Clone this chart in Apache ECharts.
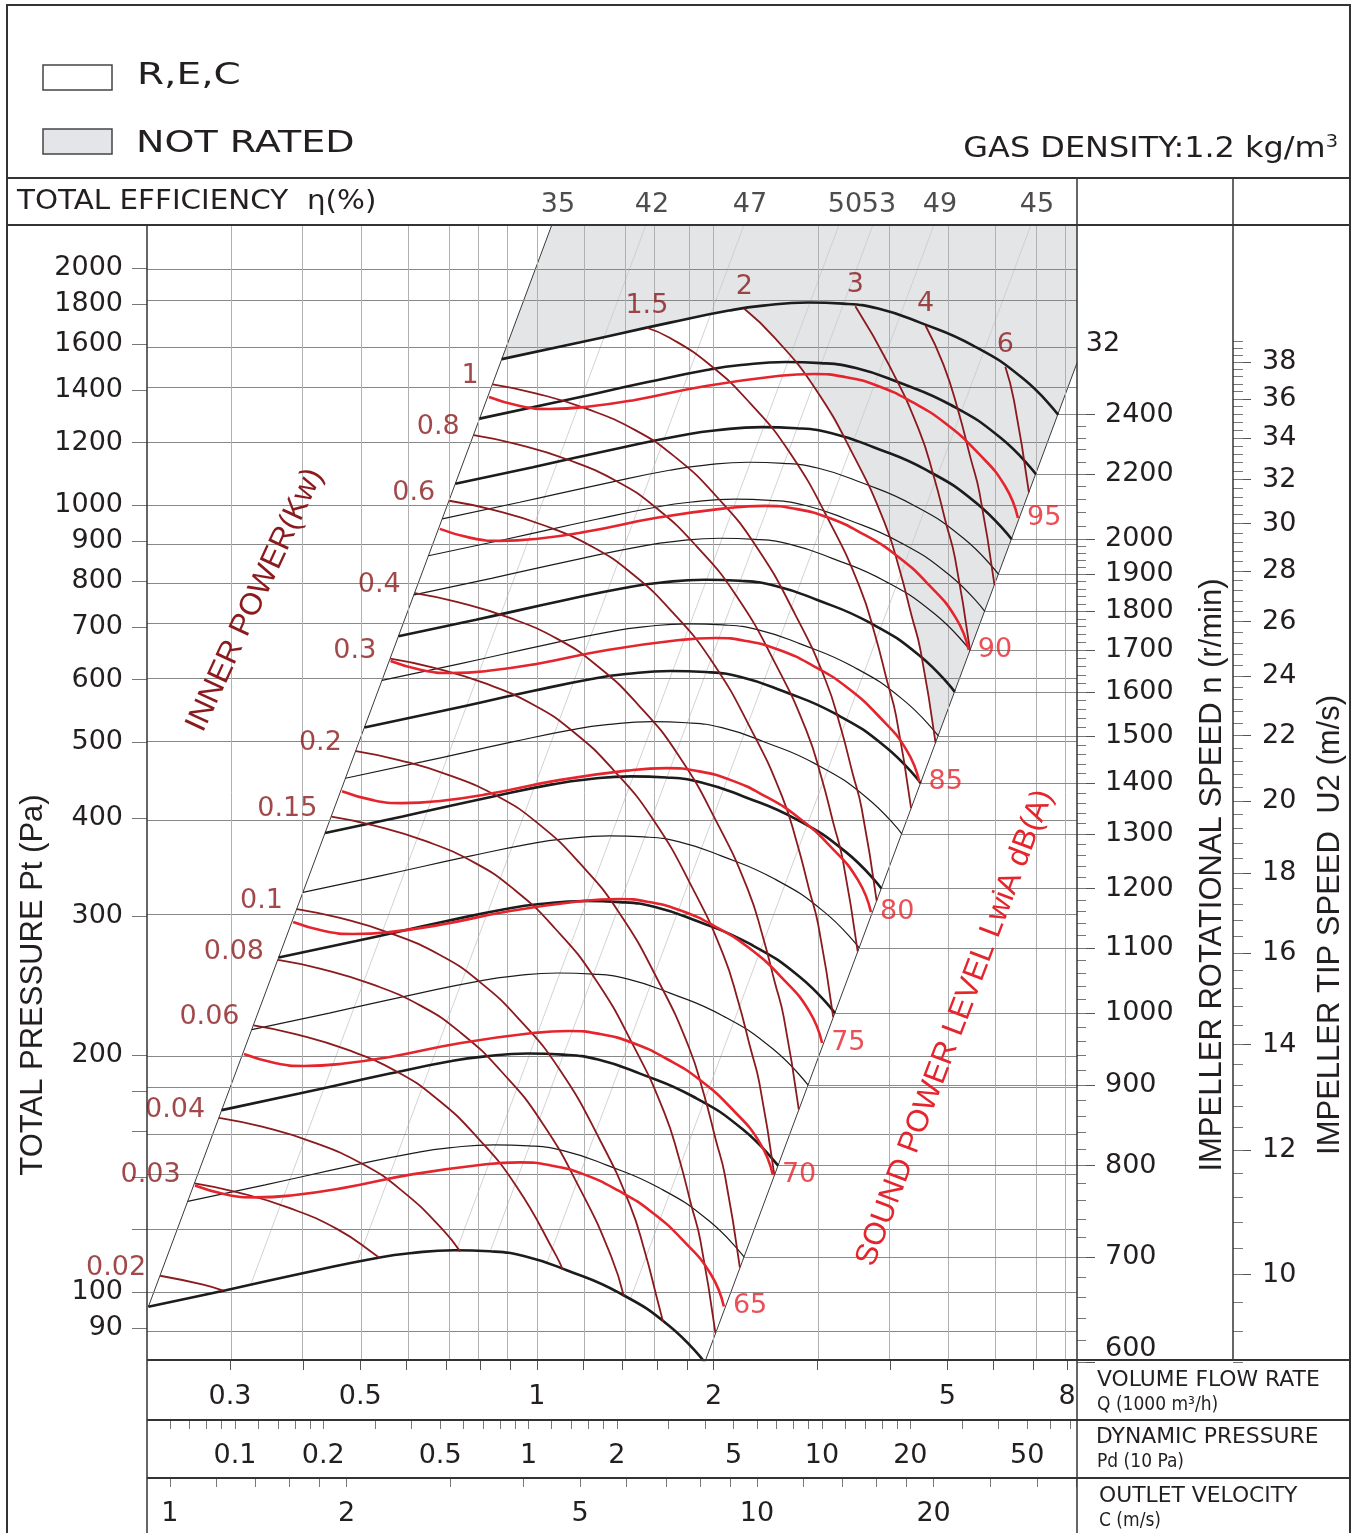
<!DOCTYPE html>
<html>
<head>
<meta charset="utf-8">
<title>Fan performance chart</title>
<script src="https://cdn.jsdelivr.net/npm/echarts@6.0.0/dist/echarts.min.js"></script>
<style>
html,body{margin:0;padding:0;background:#ffffff;}
#chart{width:1355px;height:1533px;}
</style>
</head>
<body>
<div id="chart"></div>
<script>
// ===================== DATA =====================
// axis extents (flow Q in 1000 m3/h, total pressure Pt in Pa)
const Q_RANGE = [0.21664, 8.318];
const P_RANGE = [81.95, 2268.5];

// tick lists
const flowTicks = [0.3,0.4,0.5,0.6,0.7,0.8,0.9,1,1.2,1.4,1.6,1.8,2,3,4,5,6,7,8];
const flowLabels = [0.3,0.5,1,2,5,8];
const pressureTicks = [90,100,120,140,160,180,200,300,400,500,600,700,800,900,1000,1200,1400,1600,1800,2000];
const pressureLabels = [90,100,200,300,400,500,600,700,800,900,1000,1200,1400,1600,1800,2000];
const speedLabels = [600,700,800,900,1000,1100,1200,1300,1400,1500,1600,1700,1800,1900,2000,2200,2400];
const tipSpeedLabels = [10,12,14,16,18,20,22,24,26,28,30,32,34,36,38];
const dynPressureTicks = [0.06,0.07,0.08,0.09,0.1,0.12,0.14,0.16,0.18,0.2,0.3,0.4,0.5,0.6,0.7,0.8,0.9,1,1.2,1.4,1.6,1.8,2,3,4,5,6,7,8,9,10,12,14,16,18,20,30,40,50,60,70];
const dynPressureLabels = [0.1,0.2,0.5,1,2,5,10,20,50];
const velocityTicks = [1,1.2,1.4,1.6,1.8,2,3,4,5,6,7,8,9,10,12,14,16,18,20,25,30,35];
const velocityLabels = [1,2,5,10,20];

// fan constants
const airDensity = 1.2;            // kg/m3
const outletVelocityPerFlow = 4.22; // C (m/s) per 1000 m3/h
const impellerDiameter = 0.28;     // m
const lowestSpeed = 600;

// fan curve (total pressure vs flow) at the reference speed
const fanBaseRpm = 1000;
const fanBaseQ = [0.363,0.492,0.702,0.885,1.012,1.207,1.385,1.589,1.873,2.306,2.805,3.219];
const fanBaseP = [266,279.2,296.0,306.6,311.1,313.9,312.9,308.4,296.0,276.8,251.3,226.1];
const fanSpeeds = [600,700,800,900,1000,1100,1200,1300,1400,1500,1600,1700,1800,1900,2000,2200,2400];
const fanSpeedsBold = [600,800,1000,1200,1400,1600,2000,2200,2400];

// sound power level curves (dB(A)) : shape at the 70 dB curve, speed at which each curve ends
const soundLevels = [65,70,75,80,85,90,95];
const soundSpeeds = [651,789,957,1159,1402,1701,2063];
const soundBaseSpeed = 789;
const soundBaseQ = [0.3169,0.3578,0.4010,0.4618,0.5618,0.7422,0.9844,1.1337,1.2805,1.4572,1.6654,1.8956,2.1578,2.3988,2.5235];
const soundBaseP = [200.6,195.4,193.7,194.8,198.9,207.2,213.3,214.6,212.7,207.2,197.7,185.9,170.3,154.6,140.8];

// inner power curves (kW) : shape of the 0.1 kW curve
const powerValues = [0.02,0.03,0.04,0.06,0.08,0.1,0.15,0.2,0.3,0.4,0.6,0.8,1,1.5,2,3,4,6];
const powerBaseKw = 0.1;
const powerBaseQ = [0.3901,0.4618,0.5618,0.6837,0.7997,0.9355,1.0944,1.2805,1.4400,1.5275,1.6014,1.6588,1.7593];
const powerBaseP = [306.6,298.7,285.8,268.0,247.6,221.5,191.4,156.0,129.0,112.4,98.2,88.7,67.7];
const notRatedPower = 2;

// total efficiency (%) lines: system coefficient k = Pt / Q^2
const effValues = [35,42,47,50,53,49,45];
const effK = [2017,964.6,447.0,212.2,162.5,100.7,47.06];
const rightBoundaryK = 21.9;

// ===================== helpers =====================
const L = Math.log10;
const pw = v => Math.pow(10, v);
const fmt = v => String(+v.toPrecision(4));
const toXY = p => [L(p[0]), L(p[1])];
const lerpLog = (a, b, t) => pw(L(a) + t * (L(b) - L(a)));
const scaled = (Qs, Ps, r) => Qs.map((q, i) => [q * r, Ps[i] * r * r]);

const X0 = L(Q_RANGE[0]), X1 = L(Q_RANGE[1]), Y0 = L(P_RANGE[0]), Y1 = L(P_RANGE[1]);
const baseLK = fanBaseQ.map((q, i) => L(fanBaseP[i] / (q * q)));
function baseQatK(k) {
  const lk = L(k);
  if (lk >= baseLK[0]) return fanBaseQ[0];
  const n = baseLK.length;
  if (lk <= baseLK[n - 1]) return fanBaseQ[n - 1];
  for (let i = 0; i < n - 1; i++) {
    if (lk <= baseLK[i] && lk >= baseLK[i + 1]) {
      const t = (lk - baseLK[i]) / (baseLK[i + 1] - baseLK[i]);
      return lerpLog(fanBaseQ[i], fanBaseQ[i + 1], t);
    }
  }
  return fanBaseQ[n - 1];
}
const speedAt = (q, p) => fanBaseRpm * q / baseQatK(p / (q * q));
function clipSpeed(pts, nMin, nMax) {
  const ns = pts.map(p => speedAt(p[0], p[1]));
  const out = []; let startClipped = false;
  for (let i = 0; i < pts.length; i++) {
    if (i > 0) {
      const n0 = ns[i - 1], n1 = ns[i], cr = [];
      [nMin, nMax].forEach(b => {
        if ((n0 - b) * (n1 - b) < 0) {
          const t = (L(b) - L(n0)) / (L(n1) - L(n0));
          cr.push([t, [lerpLog(pts[i - 1][0], pts[i][0], t), lerpLog(pts[i - 1][1], pts[i][1], t)]]);
        }
      });
      cr.sort((a, b) => a[0] - b[0]).forEach(c => { if (out.length === 0) startClipped = true; out.push(c[1]); });
    }
    if (ns[i] >= nMin - 1e-6 && ns[i] <= nMax + 1e-6) out.push(pts[i]);
  }
  return { pts: out, startClipped };
}

// derived curves
const nMinCurve = fanSpeeds[0], nMaxCurve = fanSpeeds[fanSpeeds.length - 1];
const fanCurves = fanSpeeds.map(n => ({ n, pts: scaled(fanBaseQ, fanBaseP, n / fanBaseRpm) }));
const soundCurves = soundLevels.map((lv, i) => ({ lv, pts: scaled(soundBaseQ, soundBaseP, soundSpeeds[i] / soundBaseSpeed) }));
const powerCurves = powerValues.map(w => {
  const r = Math.cbrt(w / powerBaseKw);
  return Object.assign({ w }, clipSpeed(scaled(powerBaseQ, powerBaseP, r), nMinCurve, nMaxCurve));
});

// speed axis extents: right end of curve n sits at pressure Pend*(n/1000)^2
const endP = fanBaseP[fanBaseP.length - 1];
const nTop = fanBaseRpm * Math.sqrt(P_RANGE[1] / endP);
const plotH = 1135;
const rightGridH = plotH * 2 * (L(nTop) - L(lowestSpeed)) / (Y1 - Y0);
const tipPerRpm = Math.PI * impellerDiameter / 60;

// not-rated region polygon
const topCurve = fanCurves[fanCurves.length - 1].pts;
const nrCurve = powerCurves.find(c => c.w === notRatedPower).pts;
const kc = nrCurve[0][1] / (nrCurve[0][0] * nrCurve[0][0]);
const grayPoly = [];
grayPoly.push([Math.sqrt(P_RANGE[1] / effK[0]), P_RANGE[1]]);
topCurve.filter(p => p[1] / (p[0] * p[0]) > kc).forEach(p => grayPoly.push(p));
nrCurve.forEach(p => grayPoly.push(p));
grayPoly.push([Q_RANGE[1], rightBoundaryK * Q_RANGE[1] * Q_RANGE[1]]);
grayPoly.push([Q_RANGE[1], P_RANGE[1]]);
const grayXY = grayPoly.map(toXY);

// ===================== styles =====================
const INK = '#231f20', DARKRED = '#8a1a1d', RED = '#e5252d';
const axisFont = { fontFamily: 'DejaVu Sans', fontSize: 27, color: INK };
const SMOOTH = 0.5;

// ===================== series =====================
const series = [];
series.push({
  type: 'custom', xAxisIndex: 0, yAxisIndex: 0, z: 1, silent: true, clip: true,
  data: [grayXY[0]],
  renderItem: (params, api) => ({
    type: 'polygon',
    shape: { points: grayXY.map(p => api.coord(p)), smooth: 0 },
    style: { fill: '#e4e5e7', stroke: null }
  })
});

// grid lines
const c600 = fanCurves[0].pts;
const rpmLines = fanCurves.filter(c => c.pts[c.pts.length - 1][1] > P_RANGE[0]).map(c => {
  const e = c.pts[c.pts.length - 1];
  return [{ coord: [L(e[0]), L(e[1])] }, { coord: [X1, L(e[1])] }];
});
series.push({
  type: 'line', xAxisIndex: 0, yAxisIndex: 0, z: 2, silent: true, data: [], symbol: 'none',
  markLine: {
    silent: true, symbol: ['none', 'none'], label: { show: false }, animation: false,
    lineStyle: { type: 'solid', color: '#8a8a8a', width: 1 },
    emphasis: { disabled: true },
    data: [
      ...pressureTicks.map(p => ({ yAxis: L(p), lineStyle: { type: 'solid', color: '#888888', width: 1 } })),
      ...flowTicks.map(q => ({ xAxis: L(q), lineStyle: { type: 'solid', color: '#b0b0b0', width: 1 } })),
      ...rpmLines
    ]
  }
});

// efficiency system lines (faint)
effK.forEach((k, i) => {
  if (i === 0) return;
  const q600 = baseQatK(k) * lowestSpeed / fanBaseRpm;
  const qTop = Math.sqrt(P_RANGE[1] / k);
  series.push({
    type: 'line', xAxisIndex: 0, yAxisIndex: 0, z: 3, silent: true, symbol: 'none',
    lineStyle: { color: '#cdcdcd', width: 0.9 },
    data: [toXY([q600, k * q600 * q600]), toXY([qTop, P_RANGE[1]])]
  });
});
// boundaries
(function () {
  const a = c600[0];
  const kL = a[1] / (a[0] * a[0]);
  const b = c600[c600.length - 1];
  series.push({
    type: 'line', xAxisIndex: 0, yAxisIndex: 0, z: 4, silent: true, symbol: 'none',
    lineStyle: { color: '#3a3a3a', width: 1 },
    data: [toXY(a), toXY([Math.sqrt(P_RANGE[1] / kL), P_RANGE[1]])]
  });
  series.push({
    type: 'line', xAxisIndex: 0, yAxisIndex: 0, z: 4, silent: true, symbol: 'none',
    lineStyle: { color: '#3a3a3a', width: 1 },
    data: [toXY(b), toXY([Q_RANGE[1], rightBoundaryK * Q_RANGE[1] * Q_RANGE[1]])]
  });
})();

// fan curves
fanCurves.forEach(c => {
  const bold = fanSpeedsBold.indexOf(c.n) >= 0;
  series.push({
    type: 'line', xAxisIndex: 0, yAxisIndex: 0, z: 5, silent: true, symbol: 'none', smooth: SMOOTH,
    lineStyle: { color: '#1c1c1c', width: bold ? 2.6 : 1.2 },
    data: c.pts.map(toXY)
  });
});
// power curves
powerCurves.forEach(c => {
  series.push({
    type: 'line', xAxisIndex: 0, yAxisIndex: 0, z: 6, silent: true, symbol: 'none', smooth: SMOOTH,
    lineStyle: { color: DARKRED, width: 1.8 },
    data: c.pts.map(toXY)
  });
});
// sound curves
soundCurves.forEach(c => {
  series.push({
    type: 'line', xAxisIndex: 0, yAxisIndex: 0, z: 7, silent: true, symbol: 'none', smooth: SMOOTH,
    lineStyle: { color: RED, width: 2.6 },
    data: c.pts.map(toXY)
  });
});

// labels
const lblFont = { fontFamily: 'DejaVu Sans', fontSize: 27 };
series.push({
  type: 'scatter', xAxisIndex: 0, yAxisIndex: 0, z: 10, silent: true, symbolSize: 0,
  label: Object.assign({ show: true, position: 'left', distance: 14, offset: [0, -8], color: DARKRED, formatter: '{b}' }, lblFont),
  data: powerCurves.filter(c => !c.startClipped).map(c => ({ name: String(c.w), value: toXY(c.pts[0]) }))
});
series.push({
  type: 'scatter', xAxisIndex: 0, yAxisIndex: 0, z: 10, silent: true, symbolSize: 0,
  label: Object.assign({ show: true, position: 'top', distance: 8, color: DARKRED, formatter: '{b}' }, lblFont),
  data: powerCurves.filter(c => c.startClipped).map(c => ({ name: String(c.w), value: toXY(c.pts[0]) }))
});
series.push({
  type: 'scatter', xAxisIndex: 0, yAxisIndex: 0, z: 10, silent: true, symbolSize: 0,
  label: Object.assign({ show: true, position: 'right', distance: 9, color: RED, formatter: '{b}' }, lblFont),
  data: soundCurves.map(c => ({ name: String(c.lv), value: toXY(c.pts[c.pts.length - 1]) }))
});
series.push({
  type: 'scatter', xAxisIndex: 1, yAxisIndex: 1, z: 10, silent: true, symbolSize: 0,
  label: Object.assign({ show: true, position: 'inside', offset: [6, 3], color: INK, formatter: '{b}' }, lblFont),
  data: effValues.map((e, i) => ({ name: String(e), value: [L(Math.sqrt(P_RANGE[1] / effK[i])), 0.5] }))
});

// ===================== axes =====================
const pdOff = L(0.5 * airDensity / 10) + 2 * L(outletVelocityPerFlow);
const cOff = L(outletVelocityPerFlow);
const noLine = { show: false, onZero: false };
const hidden = (gi, min, max) => ({ gridIndex: gi, type: 'value', min, max, show: false, axisLine: noLine, axisTick: { show: false }, axisLabel: { show: false }, splitLine: { show: false } });

const xAxis = [
  {
    gridIndex: 0, type: 'value', min: X0, max: X1, position: 'bottom',
    axisLine: noLine, splitLine: { show: false },
    axisTick: { show: true, customValues: flowTicks.map(L), length: 10, lineStyle: { color: '#555', width: 1 } },
    axisLabel: Object.assign({ customValues: flowLabels.map(L), formatter: v => fmt(pw(v)), margin: 23 }, axisFont)
  },
  hidden(1, X0, X1),
  {
    gridIndex: 2, type: 'value', min: pdOff + 2 * X0, max: pdOff + 2 * X1, position: 'top',
    axisLine: noLine, splitLine: { show: false },
    axisTick: { show: true, inside: true, customValues: dynPressureTicks.map(L), length: 9, lineStyle: { color: '#777', width: 1 } },
    axisLabel: Object.assign({ inside: true, customValues: dynPressureLabels.map(L), formatter: v => fmt(pw(v)), margin: 22 }, axisFont)
  },
  {
    gridIndex: 3, type: 'value', min: cOff + X0, max: cOff + X1, position: 'top',
    axisLine: noLine, splitLine: { show: false },
    axisTick: { show: true, inside: true, customValues: velocityTicks.map(L), length: 9, lineStyle: { color: '#777', width: 1 } },
    axisLabel: Object.assign({ inside: true, customValues: velocityLabels.map(L), formatter: v => fmt(pw(v)), margin: 22 }, axisFont)
  },
  hidden(4, 0, 1)
];

const speedMinor = [];
for (let n = 600; n <= 2000; n += 20) speedMinor.push(n);
for (let n = 2040; n <= 2400; n += 40) speedMinor.push(n);
const tipMinor = [];
for (let i = 0; i <= 76; i++) tipMinor.push(8.8 + i * 0.4);
const nMinL = L(lowestSpeed), nMaxL = L(nTop);
const uOff = L(tipPerRpm);

const yAxis = [
  {
    gridIndex: 0, type: 'value', min: Y0, max: Y1, position: 'left',
    axisLine: noLine, splitLine: { show: false },
    axisTick: { show: true, customValues: pressureTicks.map(L), length: 15, lineStyle: { color: '#777', width: 1 } },
    axisLabel: Object.assign({ customValues: pressureLabels.map(L), formatter: v => fmt(pw(v)), margin: 24 }, axisFont)
  },
  hidden(1, 0, 1), hidden(2, 0, 1), hidden(3, 0, 1),
  {
    gridIndex: 4, type: 'value', min: nMinL, max: nMaxL, position: 'left',
    axisLine: noLine, splitLine: { show: false },
    axisTick: { show: true, inside: true, customValues: speedLabels.map(L), length: 18, lineStyle: { color: '#555', width: 1 } },
    axisLabel: Object.assign({ inside: true, customValues: speedLabels.map(L), formatter: v => String(Math.round(pw(v))), margin: 28, verticalAlignMinLabel: 'bottom' }, axisFont)
  },
  {
    gridIndex: 4, type: 'value', min: nMinL, max: nMaxL, position: 'left',
    axisLine: noLine, splitLine: { show: false },
    axisTick: { show: true, inside: true, customValues: speedMinor.map(L), length: 9, lineStyle: { color: '#777', width: 1 } },
    axisLabel: { show: false }
  },
  {
    gridIndex: 4, type: 'value', min: nMinL + uOff, max: nMaxL + uOff, position: 'right',
    axisLine: noLine, splitLine: { show: false },
    axisTick: { show: true, customValues: tipSpeedLabels.map(L), length: 18, lineStyle: { color: '#555', width: 1 } },
    axisLabel: Object.assign({ customValues: tipSpeedLabels.map(L), formatter: v => String(Math.round(pw(v))), margin: 29 }, axisFont)
  },
  {
    gridIndex: 4, type: 'value', min: nMinL + uOff, max: nMaxL + uOff, position: 'right',
    axisLine: noLine, splitLine: { show: false },
    axisTick: { show: true, customValues: tipMinor.map(L), length: 10, lineStyle: { color: '#777', width: 1 } },
    axisLabel: { show: false }
  }
];

// ===================== graphic (frame & titles) =====================
const G = [];
function line(x1, y1, x2, y2, w) {
  G.push({ type: 'line', silent: true, z: 100, shape: { x1, y1, x2, y2 }, style: { stroke: '#333', lineWidth: w || 1.5 } });
}
function text(x, y, t, o) {
  o = o || {};
  G.push({
    type: 'text', silent: true, z: 101, x, y, rotation: o.rot || 0, scaleX: o.sx || 1,
    style: Object.assign({
      text: t, fill: o.color || INK, font: o.font || '27px "DejaVu Sans"',
      textAlign: o.align || 'left', align: o.align || 'left',
      textVerticalAlign: 'middle', verticalAlign: 'middle'
    }, o.extra || {})
  });
}
G.push({ type: 'rect', silent: true, z: 100, shape: { x: 7, y: 5, width: 1343, height: 1540 }, style: { fill: null, stroke: '#333', lineWidth: 2 } });
line(7, 178, 1350, 178, 2);
line(7, 225, 1350, 225, 2);
line(147, 225, 147, 1533, 1.5);
line(1077, 178, 1077, 1533, 1.5);
line(1233, 178, 1233, 1360, 1.5);
line(147, 1360, 1350, 1360, 2);
line(147, 1420, 1350, 1420, 2);
line(147, 1478, 1350, 1478, 2);

// legend
G.push({ type: 'rect', silent: true, z: 100, shape: { x: 43, y: 65, width: 69, height: 25 }, style: { fill: '#ffffff', stroke: '#444', lineWidth: 1.5 } });
G.push({ type: 'rect', silent: true, z: 100, shape: { x: 43, y: 129, width: 69, height: 25 }, style: { fill: '#e3e5e8', stroke: '#444', lineWidth: 1.5 } });
text(137, 76, 'R,E,C', { font: '30px "DejaVu Sans"', sx: 1.3 });
text(136, 144, 'NOT RATED', { font: '30px "DejaVu Sans"', sx: 1.27 });
G.push({
  type: 'text', silent: true, z: 101, x: 1338, y: 150, scaleX: 1.14,
  style: {
    text: '{a|GAS DENSITY:' + airDensity + ' kg/m}{b|3}', textAlign: 'right', align: 'right',
    textVerticalAlign: 'middle', verticalAlign: 'middle',
    rich: {
      a: { font: '28px "DejaVu Sans"', fill: INK, color: INK },
      b: { font: '17px "DejaVu Sans"', fill: INK, color: INK, padding: [0, 0, 14, 0] }
    }
  }
});
text(17, 202, 'TOTAL EFFICIENCY  \u03b7(%)', { font: '26px "DejaVu Sans"', sx: 1.13 });
text(1103, 344, '32', { align: 'center' });

// axis titles
text(33, 985, 'TOTAL PRESSURE Pt (Pa)', { font: '31px "Liberation Sans"', align: 'center', rot: Math.PI / 2 });
text(1212, 875, 'IMPELLER ROTATIONAL SPEED n (r/min)', { font: '31px "Liberation Sans"', align: 'center', rot: Math.PI / 2 });
text(1330, 925, 'IMPELLER TIP SPEED  U2 (m/s)', { font: '31px "Liberation Sans"', align: 'center', rot: Math.PI / 2 });
text(255, 600, 'INNER POWER(Kw)', { font: '31px "Liberation Sans"', align: 'center', rot: 1.138, color: DARKRED });
text(955, 1028, 'SOUND POWER LEVEL LwiA dB(A)', { font: '31px "Liberation Sans"', align: 'center', rot: 1.2086, color: RED });

// bottom row titles
text(1097, 1381, 'VOLUME FLOW RATE', { font: '21px "DejaVu Sans"', sx: 1.04 });
text(1097, 1405, 'Q (1000 m\u00b3/h)', { font: '19px "DejaVu Sans Condensed"' });
text(1096, 1438, 'DYNAMIC PRESSURE', { font: '21px "DejaVu Sans"', sx: 1.04 });
text(1097, 1462, 'Pd (10 Pa)', { font: '19px "DejaVu Sans Condensed"' });
text(1099, 1497, 'OUTLET VELOCITY', { font: '21px "DejaVu Sans"', sx: 1.04 });
text(1099, 1521, 'C (m/s)', { font: '19px "DejaVu Sans Condensed"' });

// ===================== chart =====================
const chart = echarts.init(document.getElementById('chart'), null, { renderer: 'canvas', width: 1355, height: 1533 });
const gridBase = { containLabel: false, outerBoundsMode: 'none', show: false };
chart.setOption({
  animation: false,
  backgroundColor: '#ffffff',
  grid: [
    Object.assign({ left: 147, top: 225, width: 930, height: plotH }, gridBase),
    Object.assign({ left: 147, top: 178, width: 930, height: 47 }, gridBase),
    Object.assign({ left: 147, top: 1420, width: 930, height: 58 }, gridBase),
    Object.assign({ left: 147, top: 1478, width: 930, height: 55 }, gridBase),
    Object.assign({ left: 1077, top: 225, width: 156, height: rightGridH }, gridBase)
  ],
  xAxis, yAxis, series,
  graphic: { elements: G }
});
</script>
</body>
</html>
